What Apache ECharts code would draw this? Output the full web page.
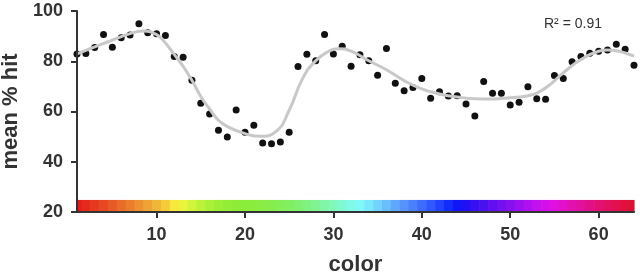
<!DOCTYPE html>
<html>
<head>
<meta charset="utf-8">
<script src="https://cdn.jsdelivr.net/npm/echarts@6/dist/echarts.min.js"></script>
<style>
  html, body { margin: 0; padding: 0; background: #fff; }
  #main { width: 640px; height: 274px; }
</style>
</head>
<body>
<div id="main"></div>
<script>
// colour index on the x axis, one dot per index
var colorIndex = [1, 2, 3, 4, 5, 6, 7, 8, 9, 10, 11, 12, 13, 14, 15, 16,
  17, 18, 19, 20, 21, 22, 23, 24, 25, 26, 27, 28, 29, 30, 31, 32,
  33, 34, 35, 36, 37, 38, 39, 40, 41, 42, 43, 44, 45, 46, 47, 48,
  49, 50, 51, 52, 53, 54, 55, 56, 57, 58, 59, 60, 61, 62, 63, 64];

// mean % hit for each colour
var meanHit = [82.9, 83.1, 85.5, 90.6, 85.6, 89.4, 90.4, 94.9, 91.3, 90.9, 90.2, 81.9, 81.6, 72.4, 63.3, 59.0,
  52.5, 49.9, 60.6, 51.7, 54.5, 47.5, 47.2, 47.9, 51.7, 77.9, 82.8, 80.2, 90.6, 82.9, 86.0, 78.0,
  82.6, 80.2, 74.4, 85.1, 71.2, 68.3, 69.6, 73.1, 65.3, 67.9, 66.2, 66.3, 63.0, 58.2, 71.9, 67.3,
  67.3, 62.6, 63.7, 69.9, 65.1, 64.9, 74.3, 73.1, 79.8, 81.9, 83.2, 84.0, 84.5, 86.8, 84.8, 78.4];

// fitted curve
var fitX = [1, 3, 5, 7, 8.5, 10, 11, 12, 13, 14, 15, 16, 17, 18, 20, 21.7, 23.5, 25, 26.5, 28, 29.5, 30.5,
  32, 34, 36, 38, 40, 42, 44, 46, 48, 50, 52, 54, 56, 58, 60, 61, 62, 63, 64];
var fitY = [82.9, 85.7, 88.4, 91, 92, 90.6, 87.3, 82.7, 78, 72.4, 66, 61, 56.5, 54, 51.2, 50.1, 52, 60.5, 73, 80.2, 84, 85,
  84, 80.2, 76.6, 72.3, 69, 67, 65.8, 65.1, 65, 65.5, 66.3, 69.4, 75.4, 80.7, 84, 84.5, 84.2, 83.3, 82];

// colour bar cells along the x axis
var barColors = ['#e41a1c', '#e5291d', '#e6381f', '#e74822', '#e85a25', '#e96c28', '#ea7e2c', '#ec9030',
  '#eea334', '#f0b638', '#f4cc3a', '#f8e83c', '#eaf43c', '#d2f43a', '#bcf238', '#aaf036',
  '#9cee36', '#94ec36', '#8eec38', '#8cec3a', '#8aec3e', '#88ec44', '#86ec4c', '#84ee56',
  '#82ee62', '#80f070', '#80f280', '#80f492', '#80f6a6', '#80f8bc', '#80f8d2', '#80fae8',
  '#80f8f8', '#7ae8fc', '#72d4fc', '#6abefc', '#60a8fc', '#5694fc', '#4a80fc', '#3e6cfc',
  '#3058fc', '#2242fc', '#142cfa', '#1016f8', '#2210f4', '#3610f2', '#4a10f0', '#5e10f0',
  '#7210f0', '#8610f0', '#9a10f0', '#ae10f0', '#c210ee', '#d410ea', '#e010e0', '#e210c8',
  '#e210b2', '#e2109c', '#e21086', '#e21072', '#e21060', '#e2104e', '#e2103e', '#e01030'];
var barBottom = 20, barTop = 24.8;

var xTicks = [10, 20, 30, 40, 50, 60];
var xMin = 1, xMax = 64;

var font = '"Liberation Sans", Arial, sans-serif';
var ink = '#333';

var myChart = echarts.init(document.getElementById('main'));

myChart.setOption({
  animation: false,
  grid: { left: 77, right: 6, top: 11, bottom: 62, outerBoundsMode: 'none' },
  xAxis: {
    type: 'value',
    min: xMin,
    max: xMax,
    z: 5,
    name: 'color',
    nameLocation: 'middle',
    nameGap: 42,
    nameTextStyle: { fontFamily: font, fontSize: 22, fontWeight: 'bold', color: ink },
    axisLine: { lineStyle: { color: ink, width: 2 } },
    axisTick: { customValues: xTicks, length: 6, lineStyle: { color: ink, width: 2 } },
    axisLabel: { customValues: xTicks, margin: 14, fontFamily: font, fontSize: 18, fontWeight: 'bold', color: ink },
    splitLine: { show: false }
  },
  yAxis: {
    type: 'value',
    min: 20,
    max: 100,
    interval: 20,
    z: 5,
    name: 'mean % hit',
    nameLocation: 'middle',
    nameGap: 54,
    nameTextStyle: { fontFamily: font, fontSize: 22, fontWeight: 'bold', color: ink },
    axisLine: { show: true, lineStyle: { color: ink, width: 2 } },
    axisTick: { show: true, length: 6, lineStyle: { color: ink, width: 2 } },
    axisLabel: { margin: 14, fontFamily: font, fontSize: 18, fontWeight: 'bold', color: ink },
    splitLine: { show: false }
  },
  graphic: [{
    type: 'text',
    left: 544,
    top: 17,
    style: { text: 'R² = 0.91', fontFamily: font, fontSize: 14, fill: ink }
  }],
  series: [{
    type: 'custom',
    z: 1,
    data: colorIndex.map(function (c, i) { return [c, i]; }),
    renderItem: function (params, api) {
      var c = api.value(0);
      var lo = api.coord([Math.max(xMin, c - 0.5), barBottom]);
      var hi = api.coord([Math.min(xMax, c + 0.5), barTop]);
      return {
        type: 'rect',
        shape: { x: lo[0], y: hi[1], width: hi[0] - lo[0] + 0.6, height: lo[1] - hi[1] },
        style: { fill: barColors[params.dataIndex] }
      };
    }
  }, {
    type: 'scatter',
    z: 2,
    clip: false,
    symbolSize: 7,
    itemStyle: { color: '#111', opacity: 1 },
    data: colorIndex.map(function (c, i) { return [c, meanHit[i]]; })
  }, {
    type: 'line',
    z: 3,
    smooth: true,
    showSymbol: false,
    lineStyle: { color: '#c8c8c8', width: 3 },
    data: fitX.map(function (x, i) { return [x, fitY[i]]; })
  }]
});
</script>
</body>
</html>
